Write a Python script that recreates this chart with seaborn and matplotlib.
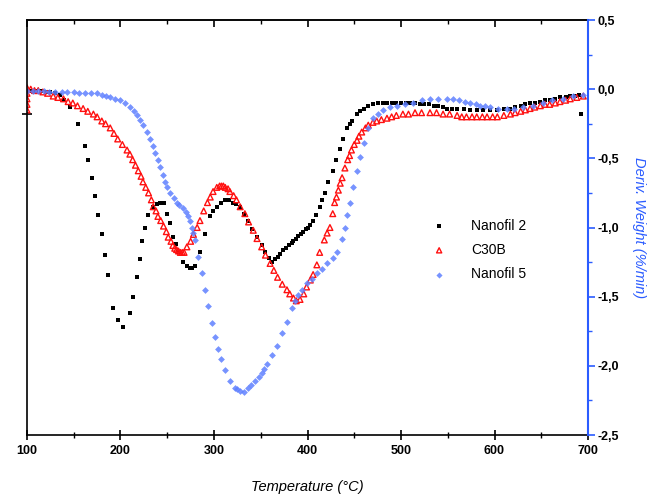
"""
DTG curves (deriv. weight vs temperature) for the three clays.
"""

import matplotlib
matplotlib.use("Agg")
import matplotlib.pyplot as plt
import seaborn as sns
from matplotlib.ticker import FuncFormatter, MultipleLocator

# values
nanofil2_temp = [100, 105, 110, 115, 120, 125, 130, 135, 140, 146,
                 155, 162, 165, 169, 173, 176, 180, 183, 187, 192,
                 197, 203, 210, 213, 218, 221, 223, 226, 229, 235,
                 239, 242, 246, 250, 253, 256, 259, 262, 267, 271,
                 274, 277, 280, 285, 290, 296, 299, 303, 308, 312,
                 316, 320, 324, 328, 332, 336, 341, 346, 351, 355,
                 359, 362, 365, 368, 371, 374, 377, 380, 383, 385,
                 388, 390, 393, 395, 398, 400, 403, 406, 409, 413,
                 416, 419, 422, 427, 431, 435, 438, 442, 445, 448,
                 453, 456, 460, 465, 470, 475, 481, 485, 490, 495,
                 500, 505, 510, 515, 520, 525, 530, 535, 540, 545,
                 549, 555, 560, 567, 574, 581, 588, 595, 603, 610,
                 617, 622, 628, 633, 638, 643, 649, 654, 659, 665,
                 670, 676, 681, 686, 690, 693]
nanofil2_dtg = [-0.01, -0.01, -0.01, -0.01, -0.02, -0.02, -0.03, -0.04, -0.08, -0.13,
                -0.25, -0.41, -0.51, -0.64, -0.77, -0.91, -1.05, -1.20, -1.34, -1.58,
                -1.67, -1.72, -1.62, -1.50, -1.36, -1.23, -1.10, -1.00, -0.91, -0.85,
                -0.83, -0.82, -0.82, -0.90, -0.97, -1.07, -1.12, -1.18, -1.25, -1.28,
                -1.29, -1.29, -1.28, -1.18, -1.05, -0.92, -0.88, -0.85, -0.82, -0.80,
                -0.80, -0.82, -0.83, -0.85, -0.90, -0.95, -1.01, -1.07, -1.13, -1.18,
                -1.22, -1.25, -1.23, -1.21, -1.19, -1.16, -1.15, -1.13, -1.11, -1.10,
                -1.08, -1.06, -1.05, -1.03, -1.01, -1.00, -0.98, -0.95, -0.91, -0.85,
                -0.80, -0.75, -0.67, -0.59, -0.51, -0.43, -0.36, -0.28, -0.25, -0.23,
                -0.18, -0.16, -0.14, -0.12, -0.11, -0.10, -0.10, -0.10, -0.10, -0.10,
                -0.10, -0.10, -0.10, -0.10, -0.11, -0.11, -0.11, -0.12, -0.12, -0.13,
                -0.14, -0.14, -0.14, -0.14, -0.15, -0.15, -0.15, -0.15, -0.15, -0.14,
                -0.14, -0.13, -0.12, -0.11, -0.10, -0.10, -0.09, -0.08, -0.08, -0.07,
                -0.06, -0.06, -0.05, -0.05, -0.04, -0.18]

c30b_temp = [100, 100, 100, 100, 100, 104, 108, 112, 117, 122,
             128, 133, 139, 144, 149, 154, 160, 165, 171, 175,
             180, 184, 189, 193, 197, 202, 207, 210, 213, 216,
             219, 222, 224, 227, 230, 233, 235, 238, 240, 243,
             246, 249, 251, 254, 256, 258, 260, 262, 264, 266,
             268, 271, 275, 278, 282, 285, 289, 293, 296, 299,
             303, 306, 308, 310, 312, 315, 317, 321, 324, 328,
             333, 337, 342, 346, 351, 355, 360, 364, 368, 373,
             378, 381, 385, 388, 392, 396, 399, 403, 406, 410,
             413, 418, 421, 424, 427, 429, 431, 433, 435, 437,
             440, 443, 445, 447, 450, 453, 455, 458, 462, 465,
             470, 474, 479, 485, 490, 495, 502, 508, 515, 522,
             531, 538, 545, 552, 560, 565, 570, 576, 581, 587,
             592, 598, 603, 610, 617, 622, 628, 633, 638, 643,
             649, 654, 659, 665, 670, 676, 681, 688, 695]
c30b_dtg = [0.01, -0.03, -0.07, -0.11, -0.15, 0.00, -0.01, -0.01, -0.02, -0.03,
            -0.05, -0.06, -0.07, -0.09, -0.10, -0.12, -0.14, -0.16, -0.18, -0.20,
            -0.23, -0.25, -0.28, -0.32, -0.36, -0.40, -0.44, -0.47, -0.51, -0.55,
            -0.59, -0.63, -0.67, -0.71, -0.75, -0.80, -0.85, -0.88, -0.92, -0.95,
            -0.99, -1.03, -1.07, -1.10, -1.13, -1.15, -1.16, -1.17, -1.18, -1.18,
            -1.18, -1.14, -1.10, -1.05, -1.00, -0.95, -0.88, -0.82, -0.78, -0.74,
            -0.71, -0.70, -0.70, -0.70, -0.71, -0.72, -0.74, -0.77, -0.80, -0.85,
            -0.90, -0.96, -1.02, -1.08, -1.14, -1.20, -1.26, -1.31, -1.36, -1.41,
            -1.45, -1.48, -1.51, -1.53, -1.52, -1.48, -1.43, -1.38, -1.34, -1.27,
            -1.18, -1.09, -1.04, -1.00, -0.90, -0.82, -0.78, -0.73, -0.68, -0.64,
            -0.57, -0.51, -0.48, -0.44, -0.40, -0.37, -0.34, -0.31, -0.28, -0.26,
            -0.24, -0.23, -0.22, -0.21, -0.20, -0.19, -0.18, -0.18, -0.17, -0.17,
            -0.17, -0.17, -0.18, -0.18, -0.19, -0.20, -0.20, -0.20, -0.20, -0.20,
            -0.20, -0.20, -0.20, -0.19, -0.18, -0.17, -0.16, -0.15, -0.14, -0.13,
            -0.12, -0.11, -0.11, -0.10, -0.09, -0.08, -0.07, -0.06, -0.05]

nanofil5_temp = [100, 106, 112, 118, 124, 130, 137, 143, 150, 156,
                 162, 168, 175, 180, 185, 189, 194, 199, 205, 210,
                 214, 218, 221, 224, 228, 232, 235, 237, 240, 242,
                 245, 248, 250, 253, 257, 260, 263, 267, 270, 272,
                 274, 276, 278, 280, 283, 287, 290, 294, 298, 301,
                 304, 308, 312, 317, 322, 325, 328, 332, 336, 340,
                 344, 348, 351, 354, 357, 362, 367, 373, 378, 383,
                 387, 390, 394, 399, 405, 410, 416, 421, 427, 432,
                 437, 440, 442, 445, 449, 453, 456, 460, 465, 470,
                 475, 481, 488, 496, 504, 513, 522, 531, 540, 549,
                 556, 562, 568, 574, 580, 585, 590, 595, 604, 613,
                 621, 630, 641, 652, 662, 673, 684, 695]
nanofil5_dtg = [-0.01, -0.01, -0.01, -0.01, -0.02, -0.02, -0.02, -0.02, -0.02, -0.03,
                -0.03, -0.03, -0.03, -0.04, -0.05, -0.06, -0.07, -0.08, -0.10, -0.13,
                -0.16, -0.19, -0.22, -0.26, -0.31, -0.36, -0.41, -0.46, -0.51, -0.56,
                -0.62, -0.67, -0.71, -0.75, -0.79, -0.82, -0.84, -0.86, -0.89, -0.92,
                -0.95, -1.00, -1.04, -1.09, -1.21, -1.33, -1.45, -1.57, -1.69, -1.79,
                -1.88, -1.95, -2.03, -2.11, -2.16, -2.17, -2.18, -2.19, -2.16, -2.14,
                -2.11, -2.08, -2.05, -2.02, -1.99, -1.92, -1.86, -1.76, -1.68, -1.58,
                -1.53, -1.49, -1.45, -1.40, -1.37, -1.33, -1.30, -1.26, -1.22, -1.18,
                -1.08, -1.00, -0.91, -0.82, -0.71, -0.59, -0.49, -0.39, -0.28, -0.21,
                -0.18, -0.15, -0.13, -0.12, -0.11, -0.10, -0.08, -0.07, -0.07, -0.07,
                -0.07, -0.08, -0.09, -0.10, -0.11, -0.12, -0.12, -0.13, -0.14, -0.14,
                -0.14, -0.13, -0.12, -0.10, -0.08, -0.07, -0.05, -0.04]

x_ticks = [100, 200, 300, 400, 500, 600, 700]
y_ticks = [0.5, 0.0, -0.5, -1.0, -1.5, -2.0, -2.5]

BLUE = "#2b5cff"

sns.set_style("ticks")
plt.rcParams["font.family"] = ["Liberation Sans", "DejaVu Sans"]
plt.rcParams.update({"text.color": "black", "axes.labelcolor": "black",
                     "xtick.color": "black", "ytick.color": "black"})

fig = plt.figure(figsize=(6.54, 4.96), dpi=100)
ax = fig.add_axes([27 / 654, 1 - 435 / 496, 561 / 654, 415 / 496])

sns.scatterplot(x=nanofil2_temp, y=nanofil2_dtg, ax=ax, marker="s", s=10,
                color="black", edgecolor="black", linewidth=0, label="Nanofil 2")
sns.scatterplot(x=c30b_temp, y=c30b_dtg, ax=ax, marker="^", s=17,
                facecolor="none", edgecolor="#ff1010", linewidth=1.0, label="C30B")
sns.scatterplot(x=nanofil5_temp, y=nanofil5_dtg, ax=ax, marker="D", s=12,
                color="#5f80ff", edgecolor="#5f80ff", linewidth=0, alpha=0.85,
                label="Nanofil 5")

ax.set_xlim(100, 700)
ax.set_ylim(-2.5, 0.5)

# left (weight) axis: only the single tick shows, no labels
ax.set_yticks([-0.18])
ax.set_yticklabels([])
ax.tick_params(axis="y", direction="inout", length=7, width=1.2, color="black")

ax.set_xticks(x_ticks)
ax.xaxis.set_minor_locator(MultipleLocator(50))
ax.tick_params(axis="x", which="major", direction="inout", length=7, width=1.2,
               labelsize=9, pad=4)
ax.tick_params(axis="x", which="minor", direction="inout", length=4, width=1.0)
for lab in ax.get_xticklabels():
    lab.set_fontweight("bold")

top = ax.secondary_xaxis("top")
top.set_xticks(x_ticks)
top.xaxis.set_minor_locator(MultipleLocator(50))
top.tick_params(which="major", direction="in", length=5, width=1.2, labeltop=False)
top.tick_params(which="minor", direction="in", length=3, width=1.0)
top.spines["top"].set_linewidth(1.2)

for side in ["left", "bottom", "top"]:
    ax.spines[side].set_color("black")
    ax.spines[side].set_linewidth(1.2)
ax.spines["right"].set_visible(False)

# right axis with the DTG scale
ax2 = ax.twinx()
ax2.set_ylim(-2.5, 0.5)
ax2.set_yticks(y_ticks)
ax2.yaxis.set_minor_locator(MultipleLocator(0.25))
ax2.yaxis.set_major_formatter(FuncFormatter(lambda v, p: f"{v:.1f}".replace(".", ",")))
ax2.tick_params(axis="y", which="major", direction="out", length=5, width=1.2,
                color=BLUE, labelsize=9, labelcolor="black", pad=2)
ax2.tick_params(axis="y", which="minor", direction="out", length=3, width=1.0, color=BLUE)
for lab in ax2.get_yticklabels():
    lab.set_fontweight("bold")
ax2.spines["right"].set_color(BLUE)
ax2.spines["right"].set_linewidth(1.5)
for side in ["left", "bottom", "top"]:
    ax2.spines[side].set_visible(False)
ax2.set_ylabel("Deriv. Weight (%/min)", rotation=270, color=BLUE, style="italic",
               fontsize=10.5, labelpad=19)

ax.set_xlabel("Temperature (°C)", style="italic", fontsize=10.5, labelpad=16)
ax.set_ylabel("")

ax.legend(loc="upper left", bbox_to_anchor=(0.70, 0.535), frameon=False,
          fontsize=10, labelspacing=0.75, handletextpad=1.3, markerscale=0.9,
          borderaxespad=0)

fig.savefig("out.png", dpi=100)
